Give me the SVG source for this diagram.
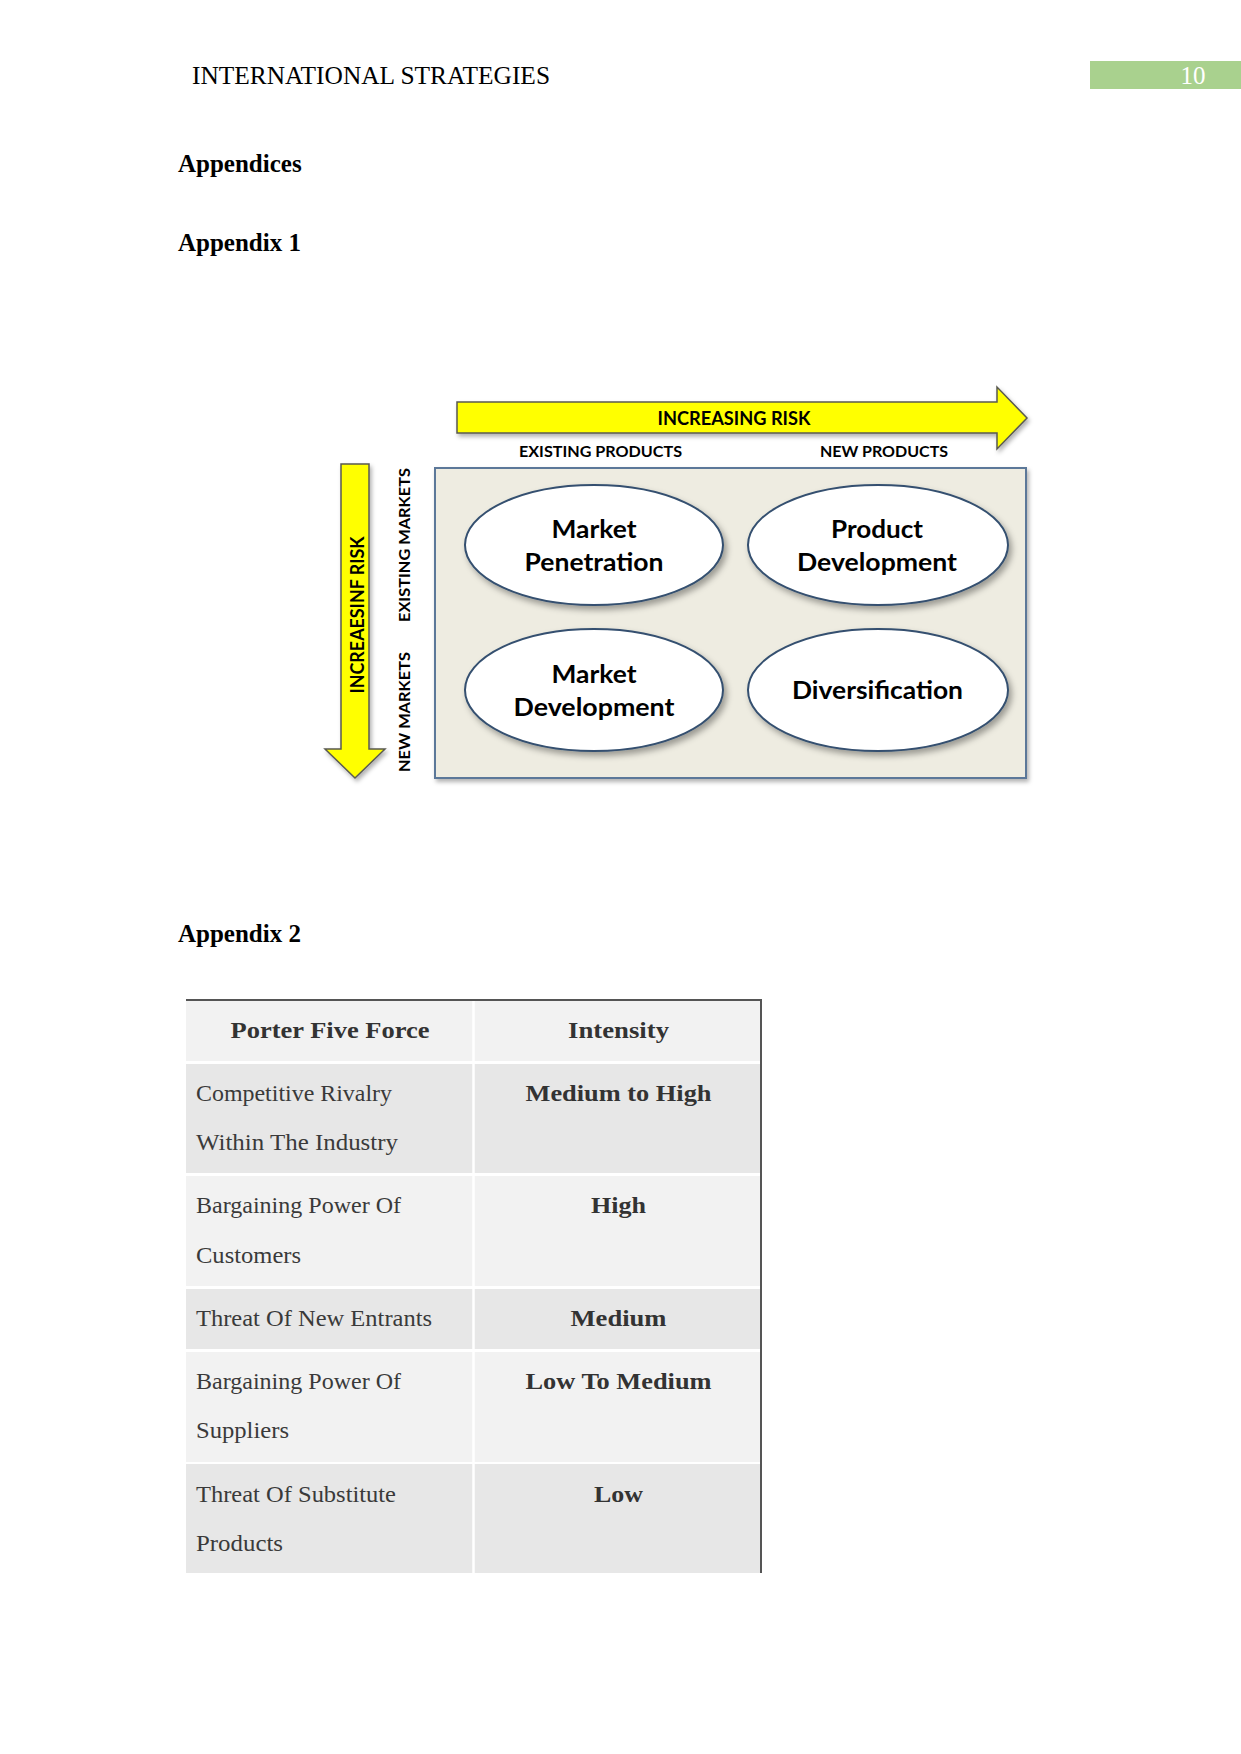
<svg xmlns="http://www.w3.org/2000/svg" width="1241" height="1754" viewBox="0 0 1241 1754">
<style>
.hdr{font-family:"Liberation Serif","Times New Roman",serif;font-size:25px;fill:#000}
.hb{font-family:"Liberation Serif","Times New Roman",serif;font-size:25px;font-weight:bold;fill:#000}
.dg{font-family:Lato,"Open Sans","Liberation Sans",sans-serif;font-weight:bold;fill:#000}
.ell{fill:#fff;stroke:#34506f;stroke-width:2}
.arr{fill:#ffff00;stroke:#5a5a50;stroke-width:1.5}
.td{font-family:"Liberation Serif","Times New Roman",serif;font-size:24px;fill:#3a3a3a}
.tb{font-family:"Liberation Serif","Times New Roman",serif;font-size:24px;font-weight:bold;fill:#333}
.rA{fill:#f2f2f2}
.rB{fill:#e7e7e7}
</style>
<defs>
<filter id="sh" x="-10%" y="-10%" width="130%" height="140%">
<feDropShadow dx="3" dy="4" stdDeviation="3" flood-color="#000" flood-opacity="0.35"/>
</filter>
<filter id="shb" x="-5%" y="-5%" width="115%" height="120%">
<feDropShadow dx="2" dy="3" stdDeviation="2" flood-color="#000" flood-opacity="0.3"/>
</filter>
</defs>
<rect width="1241" height="1754" fill="#fff"/>

<g id="page-header">
<text class="hdr" x="192" y="84" textLength="358" lengthAdjust="spacingAndGlyphs">INTERNATIONAL STRATEGIES</text>
<rect x="1090" y="61" width="151" height="28" fill="#a9d18e"/>
<text class="hdr" x="1193" y="84" text-anchor="middle" style="fill:#fff">10</text>
</g>

<g id="headings">
<text class="hb" x="178" y="172">Appendices</text>
<text class="hb" x="178" y="251">Appendix 1</text>
<text class="hb" x="178" y="942">Appendix 2</text>
</g>

<g id="ansoff-matrix">
<rect id="matrix-box" x="435" y="468" width="591" height="310" fill="#eeece1" stroke="#5b7899" stroke-width="2" filter="url(#shb)"/>

<g id="connectors">
<polygon class="arr" points="457,402 997,402 997,387 1027,418 997,449 997,433 457,433" filter="url(#shb)"/>
<polygon class="arr" points="341,464 369,464 369,749 385,749 355,778 325,749 341,749" filter="url(#shb)"/>
</g>

<g id="axis-labels">
<text class="dg" x="734" y="425" font-size="18" text-anchor="middle" textLength="153" lengthAdjust="spacingAndGlyphs">INCREASING RISK</text>
<text class="dg" x="600.5" y="457" font-size="15" text-anchor="middle" textLength="163" lengthAdjust="spacingAndGlyphs">EXISTING PRODUCTS</text>
<text class="dg" x="884" y="457" font-size="15" text-anchor="middle" textLength="128" lengthAdjust="spacingAndGlyphs">NEW PRODUCTS</text>
<text class="dg" x="0" y="0" font-size="19" text-anchor="middle" textLength="157" lengthAdjust="spacingAndGlyphs" transform="translate(364,615) rotate(-90)">INCREAESINF RISK</text>
<text class="dg" x="0" y="0" font-size="15" text-anchor="middle" textLength="154" lengthAdjust="spacingAndGlyphs" transform="translate(410,545) rotate(-90)">EXISTING MARKETS</text>
<text class="dg" x="0" y="0" font-size="15" text-anchor="middle" textLength="120" lengthAdjust="spacingAndGlyphs" transform="translate(410,712) rotate(-90)">NEW MARKETS</text>
</g>

<g id="market-penetration">
<ellipse class="ell" cx="594" cy="545" rx="129" ry="60" filter="url(#sh)"/>
<text class="dg" x="594" y="538" font-size="24" text-anchor="middle" textLength="85" lengthAdjust="spacingAndGlyphs">Market</text>
<text class="dg" x="594" y="571" font-size="24" text-anchor="middle" textLength="139" lengthAdjust="spacingAndGlyphs">Penetration</text>
</g>
<g id="product-development">
<ellipse class="ell" cx="878" cy="545" rx="130" ry="60" filter="url(#sh)"/>
<text class="dg" x="877" y="538" font-size="24" text-anchor="middle" textLength="92" lengthAdjust="spacingAndGlyphs">Product</text>
<text class="dg" x="877" y="571" font-size="24" text-anchor="middle" textLength="160" lengthAdjust="spacingAndGlyphs">Development</text>
</g>
<g id="market-development">
<ellipse class="ell" cx="594" cy="690" rx="129" ry="61" filter="url(#sh)"/>
<text class="dg" x="594" y="683" font-size="24" text-anchor="middle" textLength="85" lengthAdjust="spacingAndGlyphs">Market</text>
<text class="dg" x="594" y="716" font-size="24" text-anchor="middle" textLength="161" lengthAdjust="spacingAndGlyphs">Development</text>
</g>
<g id="diversification">
<ellipse class="ell" cx="878" cy="690" rx="130" ry="61" filter="url(#sh)"/>
<text class="dg" x="877.5" y="699" font-size="24" text-anchor="middle" textLength="171" lengthAdjust="spacingAndGlyphs">Diversification</text>
</g>
</g>

<g id="porter-table">
<rect class="rA" x="186" y="1000" width="576" height="61"/>
<rect class="rB" x="186" y="1064" width="576" height="109"/>
<rect class="rA" x="186" y="1176" width="576" height="110"/>
<rect class="rB" x="186" y="1289" width="576" height="60"/>
<rect class="rA" x="186" y="1352" width="576" height="110"/>
<rect class="rB" x="186" y="1464" width="576" height="109"/>
<line x1="473.5" y1="1000" x2="473.5" y2="1574" stroke="#fff" stroke-width="2.5"/>
<line x1="186" y1="1000" x2="762" y2="1000" stroke="#555" stroke-width="2"/>
<line x1="761" y1="999" x2="761" y2="1573" stroke="#555" stroke-width="2"/>

<text class="tb" x="330" y="1038" text-anchor="middle" textLength="199" lengthAdjust="spacingAndGlyphs">Porter Five Force</text>
<text class="tb" x="618.5" y="1038" text-anchor="middle" textLength="101" lengthAdjust="spacingAndGlyphs">Intensity</text>

<text class="td" x="196" y="1101" textLength="196" lengthAdjust="spacingAndGlyphs">Competitive Rivalry</text>
<text class="td" x="196" y="1150" textLength="202" lengthAdjust="spacingAndGlyphs">Within The Industry</text>
<text class="tb" x="618.5" y="1101" text-anchor="middle" textLength="186" lengthAdjust="spacingAndGlyphs">Medium to High</text>

<text class="td" x="196" y="1213" textLength="205" lengthAdjust="spacingAndGlyphs">Bargaining Power Of</text>
<text class="td" x="196" y="1263" textLength="105" lengthAdjust="spacingAndGlyphs">Customers</text>
<text class="tb" x="618.5" y="1213" text-anchor="middle" textLength="55" lengthAdjust="spacingAndGlyphs">High</text>

<text class="td" x="196" y="1326" textLength="236" lengthAdjust="spacingAndGlyphs">Threat Of New Entrants</text>
<text class="tb" x="618.5" y="1326" text-anchor="middle" textLength="96" lengthAdjust="spacingAndGlyphs">Medium</text>

<text class="td" x="196" y="1389" textLength="205" lengthAdjust="spacingAndGlyphs">Bargaining Power Of</text>
<text class="td" x="196" y="1438" textLength="93" lengthAdjust="spacingAndGlyphs">Suppliers</text>
<text class="tb" x="618.5" y="1389" text-anchor="middle" textLength="186" lengthAdjust="spacingAndGlyphs">Low To Medium</text>

<text class="td" x="196" y="1502" textLength="200" lengthAdjust="spacingAndGlyphs">Threat Of Substitute</text>
<text class="td" x="196" y="1551" textLength="87" lengthAdjust="spacingAndGlyphs">Products</text>
<text class="tb" x="618.5" y="1502" text-anchor="middle" textLength="49" lengthAdjust="spacingAndGlyphs">Low</text>
</g>
</svg>
